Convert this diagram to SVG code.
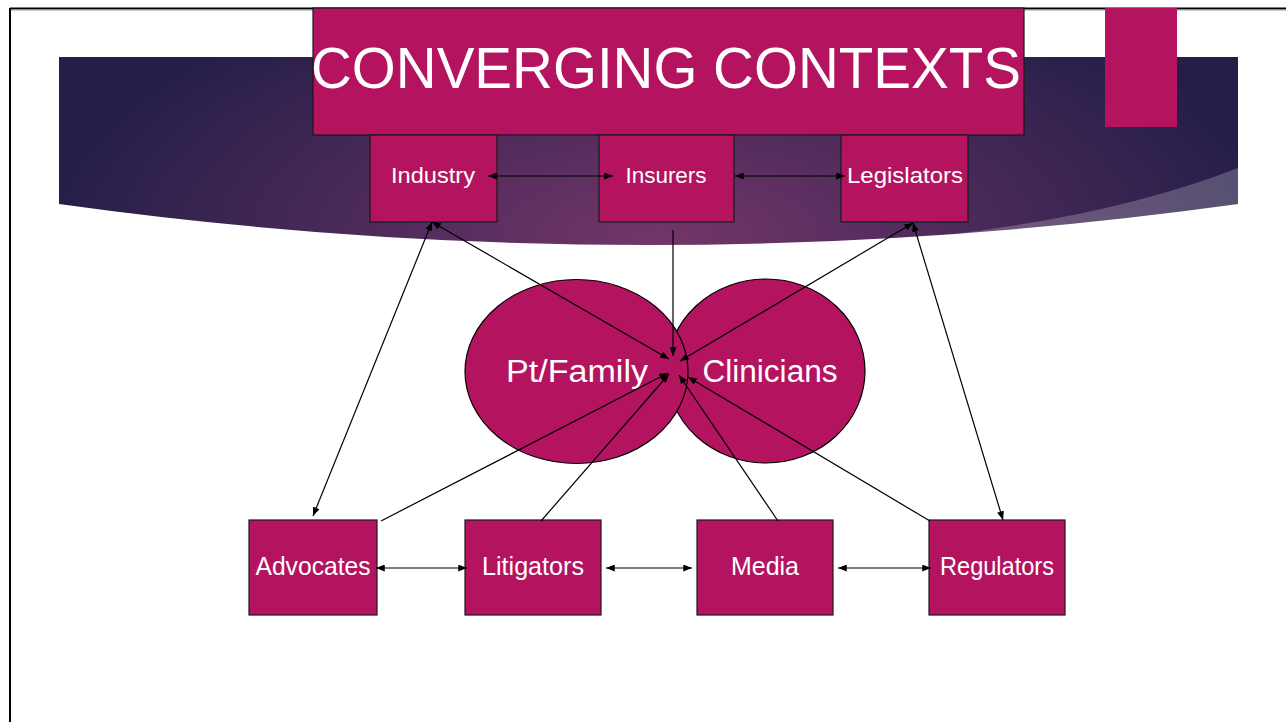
<svg xmlns="http://www.w3.org/2000/svg" width="1286" height="722" viewBox="0 0 1286 722">
<defs>
<radialGradient id="bg" gradientUnits="userSpaceOnUse" cx="660" cy="240" r="620" gradientTransform="translate(660 240) scale(1 0.45) translate(-660 -240)">
<stop offset="0" stop-color="#733668"/>
<stop offset="0.5" stop-color="#4b2a5a"/>
<stop offset="1" stop-color="#241e48"/>
</radialGradient>
<marker id="ah" viewBox="0 0 10 8" refX="10" refY="4" markerWidth="9" markerHeight="7" markerUnits="userSpaceOnUse" orient="auto-start-reverse">
<path d="M0,0 L10,4 L0,8 Z" fill="#000"/>
</marker>
<style>
.box{fill:#b3135f;stroke:#1a1a1a;stroke-width:1.2}
.lbl{font-family:"Liberation Sans",Arial,sans-serif;fill:#fff;text-anchor:middle}
.s{font-size:22px}
.m{font-size:25px}
.l{font-size:31px}
.c{stroke:#000;stroke-width:1.2;fill:none}
.b{marker-start:url(#ah);marker-end:url(#ah)}
.e{marker-end:url(#ah)}
</style>
</defs>
<rect x="0" y="0" width="1286" height="722" fill="#fff"/>
<line x1="10" y1="8.5" x2="1286" y2="8.5" stroke="#000" stroke-width="2"/>
<line x1="10" y1="10" x2="1286" y2="10" stroke="#999" stroke-width="1"/>
<line x1="10" y1="8" x2="10" y2="722" stroke="#000" stroke-width="2"/>
<g id="banner">
<path d="M59,57 L1238,57 L1238,204 Q648,286 59,204 Z" fill="url(#bg)"/>
<path d="M1238,168 Q1090,226 860,243 Q1060,232 1238,204 Z" fill="#fff" opacity="0.22"/>
</g>
<g id="title">
<rect class="box" x="313" y="8" width="711" height="127"/>
<text class="lbl" x="666" y="88" font-size="58" textLength="710" lengthAdjust="spacingAndGlyphs">CONVERGING CONTEXTS</text>
</g>
<rect id="accent" x="1105" y="8" width="72" height="119" fill="#b3135f"/>
<g id="industry"><rect class="box" x="370" y="135" width="127" height="87"/><text class="lbl s" x="433" y="183" textLength="84" lengthAdjust="spacingAndGlyphs">Industry</text></g>
<g id="insurers"><rect class="box" x="599" y="135" width="135" height="87"/><text class="lbl s" x="666" y="183" textLength="81" lengthAdjust="spacingAndGlyphs">Insurers</text></g>
<g id="legislators"><rect class="box" x="841" y="135" width="127" height="87"/><text class="lbl s" x="905" y="183" textLength="116" lengthAdjust="spacingAndGlyphs">Legislators</text></g>
<g id="clinicians"><ellipse cx="766" cy="371" rx="99" ry="92" fill="#b3135f" stroke="#000" stroke-width="1.2"/><text class="lbl l" x="770" y="382" textLength="135" lengthAdjust="spacingAndGlyphs">Clinicians</text></g>
<g id="ptfamily"><ellipse cx="576.5" cy="371.5" rx="111.5" ry="92" fill="#b3135f" stroke="#000" stroke-width="1.2"/><text class="lbl l" x="577" y="382" textLength="142" lengthAdjust="spacingAndGlyphs">Pt/Family</text></g>
<g id="advocates"><rect class="box" x="249" y="520" width="128" height="95"/><text class="lbl m" x="313" y="575" textLength="115" lengthAdjust="spacingAndGlyphs">Advocates</text></g>
<g id="litigators"><rect class="box" x="465" y="520" width="136" height="95"/><text class="lbl m" x="533" y="575" textLength="102" lengthAdjust="spacingAndGlyphs">Litigators</text></g>
<g id="media"><rect class="box" x="697" y="520" width="136" height="95"/><text class="lbl m" x="765" y="575" textLength="68" lengthAdjust="spacingAndGlyphs">Media</text></g>
<g id="regulators"><rect class="box" x="929" y="520" width="136" height="95"/><text class="lbl m" x="997" y="575" textLength="114" lengthAdjust="spacingAndGlyphs">Regulators</text></g>
<g id="connectors">
<line class="c b" x1="488" y1="176" x2="613" y2="176"/>
<line class="c b" x1="735" y1="176" x2="845" y2="176"/>
<line class="c b" x1="432" y1="222" x2="313" y2="516"/>
<line class="c b" x1="432" y1="222" x2="669" y2="359"/>
<line class="c e" x1="673" y1="230" x2="673" y2="356"/>
<line class="c b" x1="913" y1="223" x2="680" y2="361"/>
<line class="c b" x1="913" y1="223" x2="1003" y2="520"/>
<line class="c e" x1="381" y1="521" x2="668" y2="373"/>
<line class="c e" x1="541" y1="521" x2="669" y2="374"/>
<line class="c e" x1="778" y1="521" x2="679" y2="375"/>
<line class="c e" x1="930" y1="521" x2="688" y2="377"/>
<line class="c b" x1="376" y1="568" x2="467" y2="568"/>
<line class="c b" x1="606" y1="568" x2="692" y2="568"/>
<line class="c b" x1="838" y1="568" x2="931" y2="568"/>
</g>
</svg>
